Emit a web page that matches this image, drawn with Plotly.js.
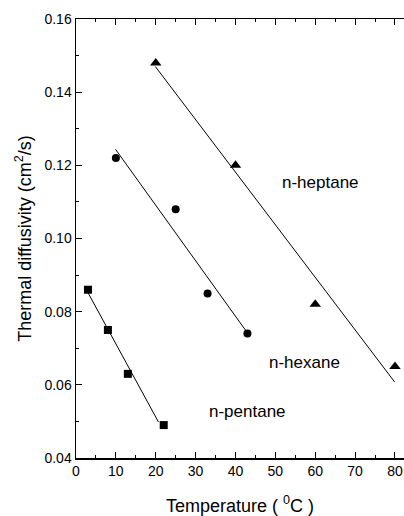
<!DOCTYPE html>
<html>
<head>
<meta charset="utf-8">
<script src="https://cdn.plot.ly/plotly-3.0.1.min.js"></script>
<style>html,body{margin:0;padding:0;background:#fff;}#chart{width:404px;height:516px;}</style>
</head>
<body>
<div id="chart"></div>
<script>
// Measured data points
const pentaneT = [3, 8, 13, 22];
const pentaneD = [0.086, 0.075, 0.063, 0.049];
const hexaneT = [10, 25, 33, 43];
const hexaneD = [0.122, 0.108, 0.085, 0.074];
const heptaneT = [20, 40, 60, 80];
const heptaneD = [0.148, 0.120, 0.082, 0.065];

// Fitted straight lines (end points)
const pentaneFitT = [3, 20.7];
const pentaneFitD = [0.0852, 0.0498];
const hexaneFitT = [9.9, 42.8];
const hexaneFitD = [0.1244, 0.0745];
const heptaneFitT = [19.9, 79.9];
const heptaneFitD = [0.1470, 0.0608];

// Labels
const labelText = ['n-heptane', 'n-hexane', 'n-pentane'];
const labelT = [61.2, 57.2, 42.9];
const labelD = [0.1152, 0.0662, 0.0526];

const FONT = 'Arial, "Liberation Sans", sans-serif';

const lineStyle = {color: '#000', width: 1};
const traces = [
  {x: pentaneFitT, y: pentaneFitD, mode: 'lines', line: lineStyle, hoverinfo: 'skip'},
  {x: hexaneFitT, y: hexaneFitD, mode: 'lines', line: lineStyle, hoverinfo: 'skip'},
  {x: heptaneFitT, y: heptaneFitD, mode: 'lines', line: lineStyle, hoverinfo: 'skip'},
  {x: pentaneT, y: pentaneD, mode: 'markers', name: 'n-pentane',
   marker: {symbol: 'square', size: 8, color: '#000'}},
  {x: hexaneT, y: hexaneD, mode: 'markers', name: 'n-hexane',
   marker: {symbol: 'circle', size: 8, color: '#000'}},
  {x: heptaneT, y: heptaneD, mode: 'markers', name: 'n-heptane',
   marker: {symbol: 'triangle-up', size: 10, color: '#000'}}
];

const annotations = labelText.map((t, i) => ({
  x: labelT[i], y: labelD[i], xref: 'x', yref: 'y', text: t, showarrow: false,
  font: {family: FONT, size: 17, color: '#000'}
}));

const layout = {
  width: 404, height: 516,
  margin: {l: 76, r: 0, t: 19, b: 58},
  paper_bgcolor: '#fff', plot_bgcolor: '#fff',
  showlegend: false,
  font: {family: FONT, color: '#000'},
  xaxis: {
    range: [0, 82.26], tick0: 0, dtick: 10, ticks: 'inside', ticklen: 6, tickwidth: 1,
    tickcolor: '#000',
    minor: {dtick: 5, ticks: 'inside', ticklen: 3, tickcolor: '#000'},
    showline: true, linecolor: '#000', linewidth: 1.5, mirror: 'ticks',
    showgrid: false, zeroline: false,
    tickfont: {family: FONT, size: 14},
    title: {text: 'Temperature ( <sup>0</sup>C )', font: {family: FONT, size: 18}, standoff: 23}
  },
  yaxis: {
    range: [0.04, 0.16], tick0: 0.04, dtick: 0.02, ticks: 'inside', ticklen: 6, tickwidth: 1,
    tickcolor: '#000', tickformat: '.2f',
    minor: {dtick: 0.01, ticks: 'inside', ticklen: 3, tickcolor: '#000'},
    showline: true, linecolor: '#000', linewidth: 1.5, mirror: false,
    showgrid: false, zeroline: false,
    tickfont: {family: FONT, size: 14},
    title: {text: 'Thermal diffusivity (cm<sup>2</sup>/s)', font: {family: FONT, size: 18}, standoff: 8}
  },
  annotations: annotations
};

Plotly.newPlot('chart', traces, layout, {displayModeBar: false, staticPlot: true});
</script>
</body>
</html>
